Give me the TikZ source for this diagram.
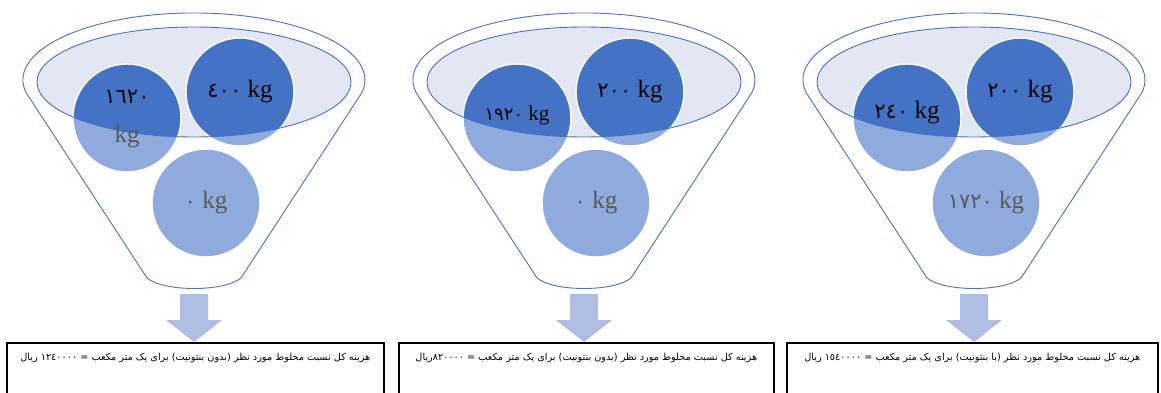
\documentclass[tikz,border=0pt]{standalone}
\usepackage{fontspec}
\setmainfont{Liberation Serif}
\newfontfamily\arabicfont[Script=Arabic]{DejaVu Sans}
\TeXXeTstate=1
\usepackage{tikz}
\usetikzlibrary{positioning}
\definecolor{funnelblue}{HTML}{4472C4}
\definecolor{ballblue}{HTML}{8FAADC}
\definecolor{bowlfill}{HTML}{E3E7F3}
\definecolor{arrowfill}{HTML}{B0BDE3}
\definecolor{kggray}{HTML}{595959}
\newcommand\digits[1]{{\arabicfont\fontsize{21}{24}\selectfont #1}}

\begin{document}
\begin{tikzpicture}[x=1pt,y=-1pt,
  funnel/.style={draw=funnelblue,fill=white,line width=0.9pt},
  bowl/.style={draw=funnelblue,line width=0.9pt},
  ball/.style={circle,fill=ballblue,minimum size=108pt,inner sep=0pt},
  rim/.style={draw=white,line width=1.4pt},
  amount/.style={font=\fontsize{25}{30}\selectfont,align=center,inner sep=0pt},
  costbox/.style={draw=black,line width=1.6pt,minimum height=90pt,anchor=north west},
  cost/.style={font=\fontsize{9.7}{11}\selectfont,inner sep=0pt}]
  \useasboundingbox (0,0) rectangle (1161,392);

  % funnel 1
  \begin{scope}[xshift=194pt]
    \draw[funnel] (-47,278) -- (-168,92.5) arc[start angle=169.2,end angle=370.8,x radius=171,y radius=67]
      -- (47,278) .. controls (30,292) and (-30,292) .. (-47,278) -- cycle;
    \fill[bowlfill] (0,82) ellipse[x radius=157,y radius=55];
    \node[ball] (l1) at (-67,118) {};
    \node[ball] (r1) at (46,92) {};
    \node[ball] (b1) at (12,203) {};
    \begin{scope}
      \clip (0,82) ellipse[x radius=157,y radius=55];
      \fill[funnelblue] (l1.center) circle[radius=54] (r1.center) circle[radius=54];
    \end{scope}
    \draw[rim] (l1.center) circle[radius=54] (r1.center) circle[radius=54] (b1.center) circle[radius=54];
    \draw[bowl] (0,82) ellipse[x radius=157,y radius=55];
    \node[amount] (tl1) at ([yshift=-1pt]l1) {\digits{١٦٢٠}\\[9pt]\textcolor{kggray}{kg}};
    \node[amount] (tr1) at (r1) {\digits{٤٠٠} kg};
    \node[amount,text=kggray] (tb1) at (b1) {\digits{٠} kg};
    \fill[arrowfill] (-14,294) -- (14,294) -- (14,320) -- (28,320) -- (0,342) -- (-28,320) -- (-14,320) -- cycle;
  \end{scope}

  % funnel 2
  \begin{scope}[xshift=584pt]
    \draw[funnel] (-47,278) -- (-168,92.5) arc[start angle=169.2,end angle=370.8,x radius=171,y radius=67]
      -- (47,278) .. controls (30,292) and (-30,292) .. (-47,278) -- cycle;
    \fill[bowlfill] (0,82) ellipse[x radius=157,y radius=55];
    \node[ball] (l2) at (-67,118) {};
    \node[ball] (r2) at (46,92) {};
    \node[ball] (b2) at (12,203) {};
    \begin{scope}
      \clip (0,82) ellipse[x radius=157,y radius=55];
      \fill[funnelblue] (l2.center) circle[radius=54] (r2.center) circle[radius=54];
    \end{scope}
    \draw[rim] (l2.center) circle[radius=54] (r2.center) circle[radius=54] (b2.center) circle[radius=54];
    \draw[bowl] (0,82) ellipse[x radius=157,y radius=55];
    \node[amount,font=\fontsize{21}{24}\selectfont] (tl2) at (-67,115) {{\arabicfont\fontsize{18}{20}\selectfont ١٩٢٠} kg};
    \node[amount] (tr2) at (r2) {\digits{٢٠٠} kg};
    \node[amount,text=kggray] (tb2) at (b2) {\digits{٠} kg};
    \fill[arrowfill] (-14,294) -- (14,294) -- (14,320) -- (28,320) -- (0,342) -- (-28,320) -- (-14,320) -- cycle;
  \end{scope}

  % funnel 3
  \begin{scope}[xshift=974pt]
    \draw[funnel] (-47,278) -- (-168,92.5) arc[start angle=169.2,end angle=370.8,x radius=171,y radius=67]
      -- (47,278) .. controls (30,292) and (-30,292) .. (-47,278) -- cycle;
    \fill[bowlfill] (0,82) ellipse[x radius=157,y radius=55];
    \node[ball] (l3) at (-67,118) {};
    \node[ball] (r3) at (46,92) {};
    \node[ball] (b3) at (12,203) {};
    \begin{scope}
      \clip (0,82) ellipse[x radius=157,y radius=55];
      \fill[funnelblue] (l3.center) circle[radius=54] (r3.center) circle[radius=54];
    \end{scope}
    \draw[rim] (l3.center) circle[radius=54] (r3.center) circle[radius=54] (b3.center) circle[radius=54];
    \draw[bowl] (0,82) ellipse[x radius=157,y radius=55];
    \node[amount] (tl3) at (-67,113) {\digits{٢٤٠} kg};
    \node[amount] (tr3) at (r3) {\digits{٢٠٠} kg};
    \node[amount,text=kggray] (tb3) at (b3) {\digits{١٧٢٠} kg};
    \fill[arrowfill] (-14,294) -- (14,294) -- (14,320) -- (28,320) -- (0,342) -- (-28,320) -- (-14,320) -- cycle;
  \end{scope}

  % cost boxes
  \node[costbox,minimum width=377pt] (box1) at (6,342) {};
  \node[costbox,minimum width=375pt] (box2) at (398,342) {};
  \node[costbox,minimum width=371pt] (box3) at (786,342) {};
  \node[cost,below=11pt of box1.north] (cost1) {\arabicfont\beginR هزینه کل نسبت مخلوط مورد نظر (بدون بنتونیت) برای یک متر مکعب = \beginL١٢٤٠٠٠٠\endL{} ریال\endR};
  \node[cost,below=11pt of box2.north] (cost2) {\arabicfont\beginR هزینه کل نسبت مخلوط مورد نظر (بدون بنتونیت) برای یک متر مکعب = \beginL٨٢٠٠٠٠\endL{}ریال\endR};
  \node[cost,below=11pt of box3.north] (cost3) {\arabicfont\beginR هزینه کل نسبت مخلوط مورد نظر (با بنتونیت) برای یک متر مکعب = \beginL١٥٤٠٠٠٠\endL{} ریال\endR};
\end{tikzpicture}
\end{document}
